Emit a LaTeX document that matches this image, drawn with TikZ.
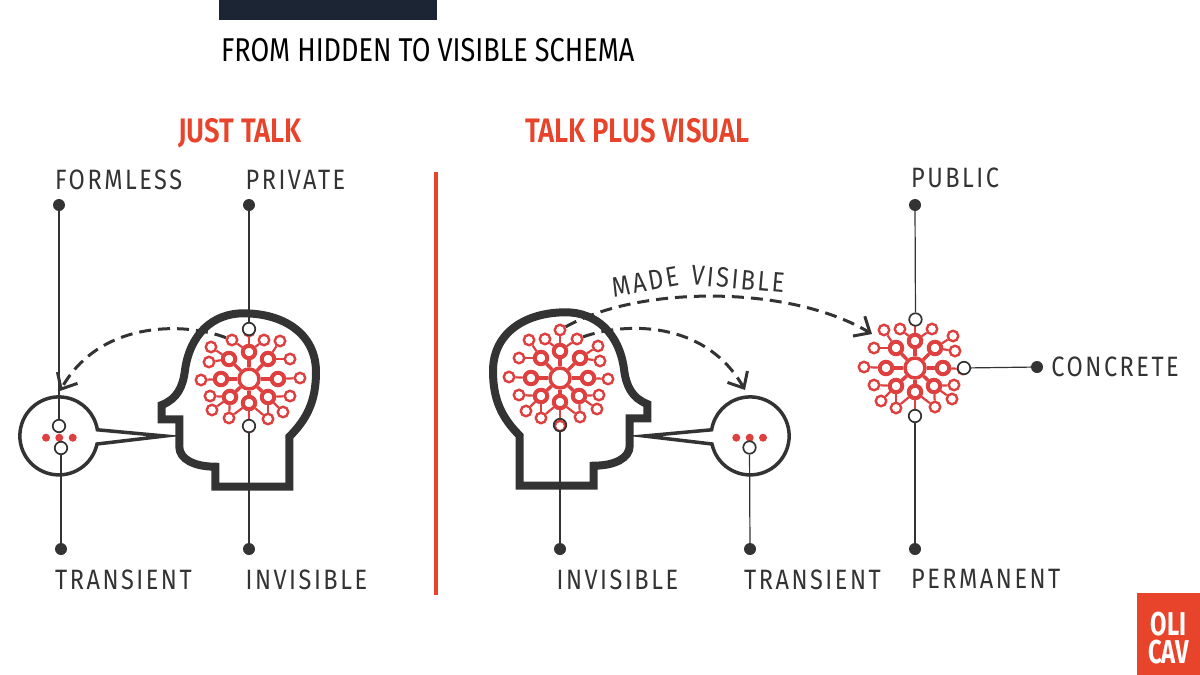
\documentclass[tikz,border=0pt]{standalone}
\usepackage{fontspec}
\usepackage{xcolor}
\usepackage{tikz}
\usetikzlibrary{arrows.meta,positioning}
\setmainfont{Fira Sans}
\newfontfamily\tagfont[FakeStretch=0.84,LetterSpace=9]{Fira Sans}
\newfontfamily\titlefont[FakeStretch=0.82]{Fira Sans}
\newfontfamily\headfont[FakeStretch=0.81]{Fira Sans SemiBold}
\newfontfamily\logofont[FakeStretch=0.72]{Fira Sans}
\definecolor{inkcolour}{HTML}{333333}
\definecolor{barcolour}{HTML}{1C2533}
\definecolor{accentcolour}{HTML}{E8432B}
\definecolor{coralcolour}{HTML}{DE3F3F}

\begin{document}
\begin{tikzpicture}[
    x=1pt, y=-1pt,
    tag/.style={inner sep=0pt, text depth=0pt, text=inkcolour, font=\fontsize{28}{28}\selectfont\tagfont},
    heading/.style={inner sep=0pt, text depth=0pt, text=accentcolour, font=\fontsize{34}{34}\selectfont\headfont},
    enddot/.style={circle, fill=inkcolour, inner sep=0pt, minimum size=12pt},
    port/.style={circle, draw=inkcolour, fill=white, line width=1.7pt, inner sep=0pt, minimum size=12.5pt},
    wire/.style={draw=inkcolour, line width=1.2pt},
    dasharc/.style={draw=inkcolour, line width=3pt, dash pattern=on 12pt off 7pt, -{Straight Barb[length=13pt,width=23pt,line width=3pt]}},
    reddot/.style={circle, fill=coralcolour, inner sep=0pt, minimum size=8pt},
    hub/.style={circle, draw=coralcolour, fill=white, line width=3.5pt, inner sep=0pt, minimum size=20pt},
    midnode/.style={circle, draw=coralcolour, fill=white, line width=4pt, inner sep=0pt, minimum size=12.5pt},
    leafnode/.style={circle, draw=coralcolour, fill=white, line width=2.4pt, inner sep=0pt, minimum size=10.5pt},
    link/.style={draw=coralcolour, line width=2.2pt},
    spoke/.style={draw=coralcolour, line width=3.5pt},
    pics/schema/.style={code={
        \node[hub] (-hub) at (0,0) {};
        \foreach \i/\x/\y in {1/0/-27,2/19/-20,3/29/0,4/19/18,5/0/24,6/-19/18,7/-28/0,8/-20/-20} {
            \node[midnode] (-m\i) at (\x,\y) {};
            \draw[spoke] (-hub) -- (-m\i);
        }
        \foreach \i/\x/\y/\p in {1/-17/-39/1,2/15/-39/1,3/31/-38/2,4/41/-20/2,5/51/-1/3,6/41/17/4,7/34/33/4,8/19/40/4,9/-20/39/6,10/-37/31/6,11/-39/17/6,12/-48/1/7,13/-40/-17/8,14/-38/-32/8,15/0/-48/1,16/0/48/5} {
            \node[leafnode] (-o\i) at (\x,\y) {};
            \draw[link] (-m\p) -- (-o\i);
        }
        \draw[link] (-m5) -- (-o8);
        \draw[link] (-m5) -- (-o9);
    }},
    pics/head/.style={code={
        \draw[inkcolour, line width=8pt, line join=miter]
            (-33.7,107.7) -- (40.3,107.7) -- (40.3,57.7)
            .. controls (58,40) and (67,22) .. (67,-7)
            .. controls (67,-45) and (35,-65.7) .. (-5.7,-65.7)
            .. controls (-36,-65.7) and (-59,-45) .. (-64,-9)
            .. controls (-66,8) and (-72,20) .. (-87.3,26)
            -- (-87.3,40.3) -- (-69.7,40.3) -- (-69.7,67.7)
            .. controls (-69.7,80) and (-55,87.7) .. (-33.7,87.7)
            -- cycle;
    }},
    pics/bubble/.style={code={
        \draw[inkcolour, line width=3.5pt, line join=miter]
            (37.5,8) arc[start angle=12, end angle=351, radius=39] -- (105.5,0) -- cycle;
    }}
]

% Top bar and title
\fill[barcolour] (219,0) rectangle (437,20);
\node[anchor=west, inner sep=0pt, text=black, font=\fontsize{33}{33}\selectfont\titlefont] (title) at (221,50) {FROM HIDDEN TO VISIBLE SCHEMA};

% Headings and divider
\node[heading, anchor=west] (justtalk) at (178,130) {JUST TALK};
\node[heading, anchor=west] (talkplus) at (525,130) {TALK PLUS VISUAL};
\coordinate (divtop) at (436,172);
\coordinate (divbot) at (436,595);
\draw[accentcolour, line width=4pt] (divtop) -- (divbot);

% Left side
\pic at (249,379) {head};
\pic (lschema) at (249,379) {schema};
\pic at (59.5,436) {bubble};
\foreach \i/\x in {1/46,2/59.3,3/72.7} \node[reddot] (ldot\i) at (\x,437.7) {};

\node[enddot] (formless) at (59,205) {};
\node[enddot] (private) at (249,205) {};
\node[enddot] (ltransient) at (61,549) {};
\node[enddot] (linvisible) at (249,549) {};
\node[port] (formlessport) at (59,426) {};
\node[port] (privateport) at (249,329) {};
\node[port] (ltransientport) at (61,448) {};
\node[port] (linvisibleport) at (249,426) {};

\node[tag, above right=11pt and -8.5pt of formless] (formlesstag) {FORMLESS};
\node[tag, above right=11pt and -8pt of private] (privatetag) {PRIVATE};
\node[tag, below right=16pt and -10.5pt of ltransient] (ltransienttag) {TRANSIENT};
\node[tag, below right=16pt and -8pt of linvisible] (linvisibletag) {INVISIBLE};

\draw[wire] (formless) -- (formlessport);
\draw[wire] (private) -- (privateport);
\draw[wire] (ltransient) -- (ltransientport);
\draw[wire] (linvisible) -- (linvisibleport);

\coordinate (ltip) at (60,391);
\draw[dasharc] (lschema-o1) .. controls (185,322) and (100,320) .. (ltip);

% Right side
\pic[xscale=-1] at (560,378) {head};
\pic[xscale=-1] (rschema) at (560,378) {schema};
\pic[xscale=-1] at (749.5,436) {bubble};
\foreach \i/\x in {1/736.3,2/749.7,3/763} \node[reddot] (rdot\i) at (\x,437.7) {};
\pic[xscale=-1] (vschema) at (915,368) {schema};

\node[enddot] (rinvisible) at (560,549) {};
\node[enddot] (rtransient) at (750,549) {};
\node[enddot] (public) at (915,205) {};
\node[enddot] (permanent) at (915,549) {};
\node[enddot] (concrete) at (1037,367) {};
\node[port, fill=none] (rinvisibleport) at (560,425) {};
\node[port] (rtransientport) at (749.5,447.5) {};
\node[port] (publicport) at (915.5,319.5) {};
\node[port] (permanentport) at (915,416) {};
\node[port] (concreteport) at (964,368) {};

\node[tag, below right=16pt and -8pt of rinvisible] (rinvisibletag) {INVISIBLE};
\node[tag, below right=16pt and -10.5pt of rtransient] (rtransienttag) {TRANSIENT};
\node[tag, above right=13pt and -8.5pt of public] (publictag) {PUBLIC};
\node[tag, below right=16pt and -8.5pt of permanent] (permanenttag) {PERMANENT};
\node[tag, right=8pt of concrete] (concretetag) {CONCRETE};

\draw[wire] (rinvisible) -- (rinvisibleport);
\draw[wire] (rtransient) -- (rtransientport);
\draw[wire] (public) -- (publicport);
\draw[wire] (permanent) -- (permanentport);
\draw[wire] (concrete) -- (concreteport);

\coordinate (vtip) at (872,334);
\coordinate (rtip) at (745,390);
\draw[dasharc] (rschema-o15) .. controls (640,285) and (790,285) .. (vtip);
\draw[dasharc] (rschema-o1) .. controls (625,322) and (705,320) .. (rtip);
\node[tag, rotate=10] (madetag) at (645,282) {MADE};
\node[tag, rotate=-5] (visibletag) at (738,279) {VISIBLE};

% Logo
\fill[accentcolour] (1136.5,593) rectangle (1200,675);
\node[anchor=center, inner sep=0pt, align=center, text=white, font=\fontsize{33}{28}\selectfont\logofont\bfseries] (logo) at (1168.5,638) {OLI\\CAV};

\useasboundingbox (0,0) rectangle (1200,675);
\end{tikzpicture}
\end{document}
